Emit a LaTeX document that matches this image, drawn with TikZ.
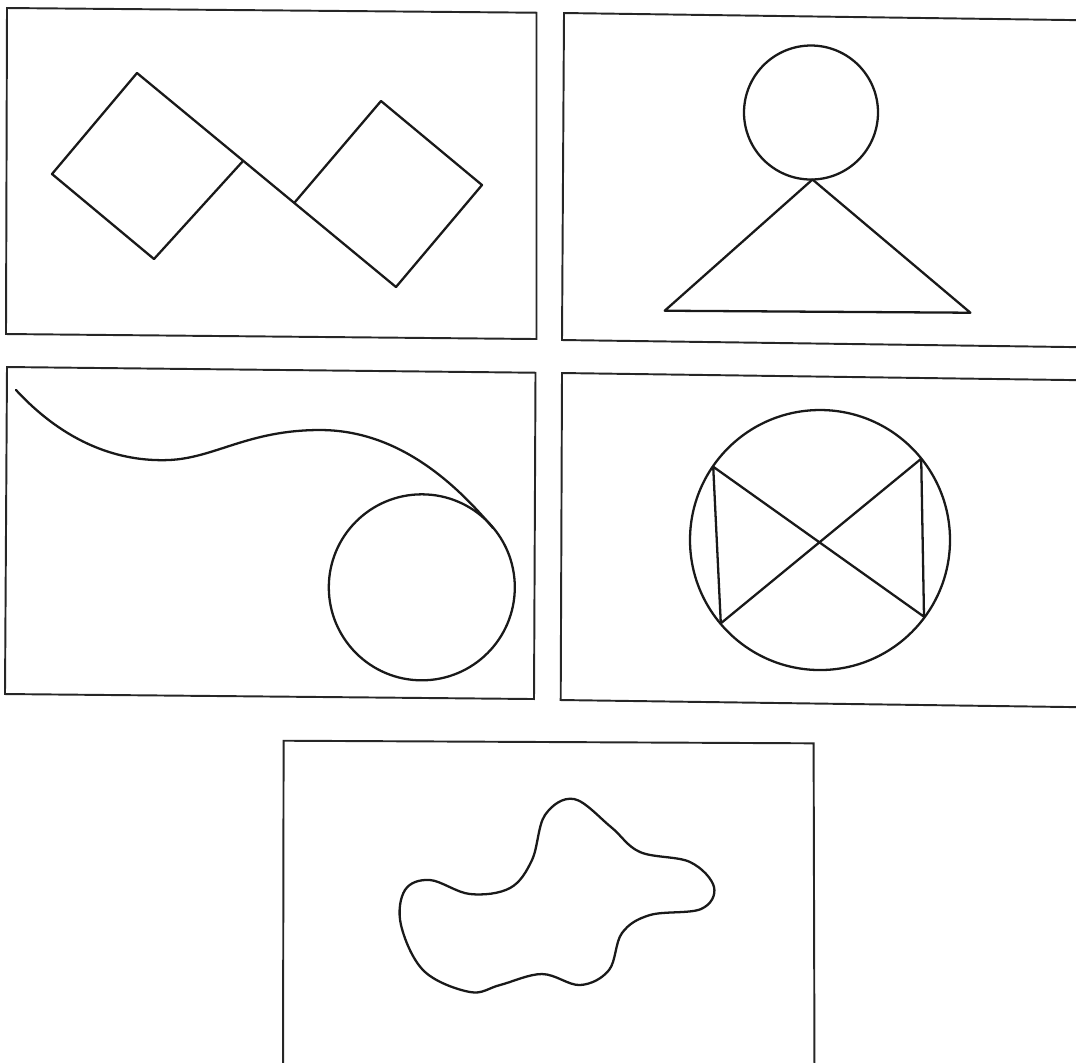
\documentclass[tikz,border=0pt]{standalone}
\begin{document}
\begin{tikzpicture}[x=0.01cm,y=-0.01cm,
  frame/.style={draw=black!85,line width=0.55pt,line join=miter},
  figline/.style={draw=black!90,line width=0.65pt,line join=round,line cap=round}]
\useasboundingbox (0,0) rectangle (1076,1062);
\clip (0,0) rectangle (1076,1062);
% ---------- panel 1 : two squares ----------
\draw[frame] (7,8) -- (536.5,12.7) -- (536.5,339) -- (6,334) -- cycle;
\coordinate (s1t) at (137,73);
\coordinate (s1l) at (52,174);
\coordinate (s1b) at (154,259);
\coordinate (s1r) at (243,161);
\coordinate (s2l) at (295,202);
\coordinate (s2t) at (381,101);
\coordinate (s2r) at (482,185);
\coordinate (s2b) at (396,287);
\draw[figline] (s1t) -- (s2b);
\draw[figline] (s1r) -- (s1b) -- (s1l) -- (s1t);
\draw[figline] (s2l) -- (s2t) -- (s2r) -- (s2b);
% ---------- panel 2 : circle on triangle ----------
\draw[frame] (1090,20.3) -- (564,13) -- (562,340) -- (1090,347.3);
\coordinate (c2) at (811,112.5);
\draw[figline] (c2) circle[radius=67];
\coordinate (apex) at (812.5,179.5);
\coordinate (tl) at (664.7,310.7);
\coordinate (tr) at (970.4,312.7);
\draw[figline] (apex) -- (tl) -- (tr) -- cycle;
% ---------- panel 3 : curve into circle ----------
\draw[frame] (7,367) -- (535.5,372.7) -- (534,699) -- (5,694) -- cycle;
\coordinate (c3) at (421.8,587.3);
\draw[figline] (c3) circle[radius=93];
\coordinate (cs) at (16,390);
\coordinate (cm1) at (169,460);
\coordinate (cm2) at (320,430);
\coordinate (ce) at (493,528);
\draw[figline] (cs) .. controls (66,444) and (120,462) .. (cm1)
  .. controls (215,458) and (248,430) .. (cm2)
  .. controls (398,430) and (455,483) .. (ce);
% ---------- panel 4 : circle with bow-tie ----------
\draw[frame] (1090,380.3) -- (562,373) -- (560.7,700) -- (1090,707.3);
\coordinate (c4) at (820,540);
\draw[figline] (c4) circle[radius=130];
\coordinate (ul) at (713.2,466.7);
\coordinate (ll) at (720.8,623.3);
\coordinate (ur) at (921.2,458.7);
\coordinate (lr) at (924,616.7);
\draw[figline] (ul) -- (lr) -- (ur) -- (ll) -- cycle;
% ---------- panel 5 : blob ----------
\draw[frame] (283,1080) -- (283.6,740.7) -- (813.6,743.3) -- (814.5,1080);
\draw[figline] plot[smooth cycle,tension=0.6] coordinates {
  (574,799) (611,827) (640,852) (690,862) (714,887) (701,909)
  (650,915) (622,933) (609,970) (580,985) (542,974) (500,985)
  (470,992) (424,971) (401,925) (405,890) (430,880) (470,894)
  (510,888) (532,860) (545,815)};
\end{tikzpicture}
\end{document}
